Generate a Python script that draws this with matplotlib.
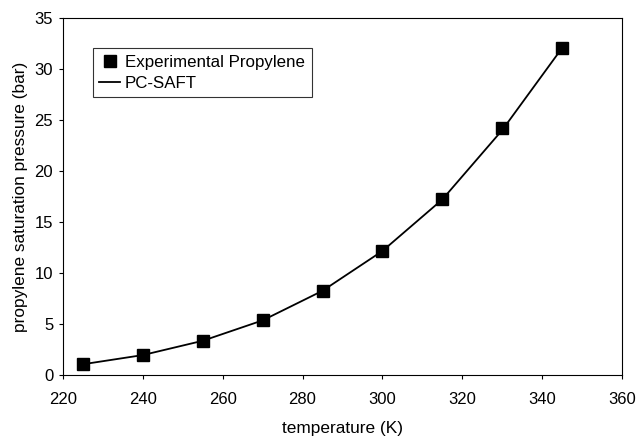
import matplotlib
matplotlib.use("Agg")
import matplotlib.pyplot as plt
import numpy as np

plt.rcParams['font.family'] = ['Liberation Sans', 'DejaVu Sans']

temperature = [225, 240, 255, 270, 285, 300, 315, 330, 345]
pressure_exp = [1.05, 1.95, 3.35, 5.35, 8.25, 12.15, 17.2, 24.2, 32.05]
pressure_saft = [1.05, 1.95, 3.35, 5.35, 8.25, 12.15, 17.2, 24.0, 32.05]

fig = plt.figure(figsize=(6.36, 4.36), dpi=100)
ax = fig.add_axes([0.099, 0.14, 0.879, 0.819])

ax.plot(temperature, pressure_saft, color='black', lw=1.3, label='PC-SAFT', zorder=2)
ax.plot(temperature, pressure_exp, linestyle='none', marker='s', markersize=8,
        color='black', label='Experimental Propylene', zorder=3)

ax.set_xlim(220, 360)
ax.set_ylim(0, 35)
ax.set_xticks(np.arange(220, 361, 20))
ax.set_yticks(np.arange(0, 36, 5))
ax.tick_params(direction='out', length=3, width=0.8, labelsize=12, colors='black')
ax.tick_params(axis='x', pad=9)
ax.tick_params(axis='y', pad=4)
for s in ax.spines.values():
    s.set_linewidth(0.8)

ax.set_xlabel('temperature (K)', fontsize=12.4, labelpad=10)
ax.set_ylabel('propylene saturation pressure (bar)', fontsize=12.4, labelpad=5)

handles, labels = ax.get_legend_handles_labels()
leg = ax.legend(handles[::-1], labels[::-1], loc='upper left',
                bbox_to_anchor=(0.053, 0.916), fontsize=12.2, frameon=True,
                fancybox=False, edgecolor='black', handlelength=1.2,
                handletextpad=0.3, borderpad=0.4, labelspacing=0.35,
                borderaxespad=0)
leg.get_frame().set_linewidth(0.8)

fig.savefig('out.png', dpi=100)
